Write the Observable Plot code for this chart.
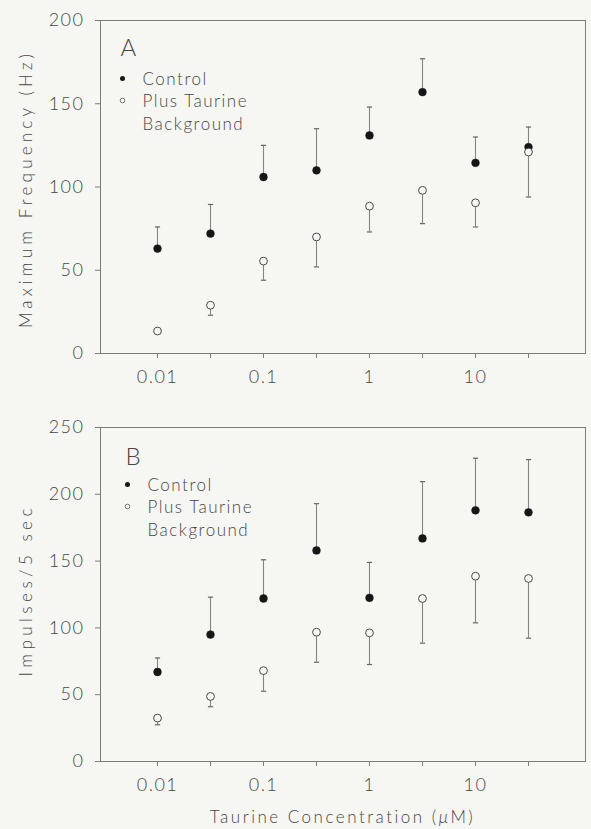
<!DOCTYPE html>
<html>
<head>
<meta charset="utf-8">
<script src="https://cdn.jsdelivr.net/npm/d3@7"></script>
<script src="https://cdn.jsdelivr.net/npm/@observablehq/plot@0.6"></script>
<style>
  html, body { margin: 0; padding: 0; background: #f6f6f3; }
  body { width: 591px; height: 829px; overflow: hidden; }
  #chart svg { display: block; }
  #chart svg text { letter-spacing: 1.5px; }
  .caption {
    width: 485px; margin-left: 100px; height: 29px; padding-top: 7px; box-sizing: border-box;
    text-align: center; font-family: Lato, "Noto Sans", sans-serif; font-weight: 300;
    font-size: 17px; line-height: 20px; letter-spacing: 2.5px; color: #464646; white-space: nowrap;
  }
</style>
</head>
<body>
<div id="chart"></div>
<script>
// ---- data ----
const concentrations = ["0.01", "0.03", "0.1", "0.3", "1", "3", "10", "30"];
const labeledTicks = ["0.01", "0.1", "1", "10"];
const legendLabels = ["Control", "Plus Taurine", "Background"];

// Panel A: Maximum Frequency (Hz)
const aControlMean  = [63, 72, 106, 110, 131, 157, 114.5, 124];
const aControlUpper = [76, 89.5, 125, 135, 148, 177, 130, 136];
const aTaurineMean  = [13.5, 29, 55.5, 70, 88.5, 98, 90.5, 121];
const aTaurineLower = [12.5, 23, 44, 52, 73, 78, 76, 94];
const aYTicks = [0, 50, 100, 150, 200];

// Panel B: Impulses/5 sec
const bControlMean  = [67, 95, 122, 158, 122.5, 167, 188, 186.5];
const bControlUpper = [77.5, 123, 151, 193, 149, 209.5, 227, 226];
const bTaurineMean  = [32.5, 48.7, 68, 96.8, 96.3, 122, 138.7, 137];
const bTaurineLower = [27.5, 41, 52.6, 74.3, 72.6, 88.6, 103.8, 92.3];
const bYTicks = [0, 50, 100, 150, 200, 250];

const bg = "#f6f6f3";
const ink = "#464646";
const font = 'Lato, "Noto Sans", sans-serif';

// horizontal cap symbol for error bars
const capSymbol = {
  draw(ctx, size) {
    const w = Math.sqrt(size / Math.PI);
    ctx.moveTo(-w, 0);
    ctx.lineTo(w, 0);
  }
};

function panel(o) {
  const ctrl = concentrations.map((c, i) => ({c, m: o.ctrlMean[i], e: o.ctrlUpper[i]}));
  const taur = concentrations.map((c, i) => ({c, m: o.taurMean[i], e: o.taurLower[i]}));
  const svg = Plot.plot({
    width: 591,
    height: 400,
    marginLeft: 100,
    marginRight: 6,
    marginTop: o.marginTop,
    marginBottom: o.marginBottom,
    style: {background: "transparent", fontFamily: font, fontSize: "18px", fontWeight: 300, color: ink},
    x: {type: "point", domain: concentrations, padding: 1.03},
    y: {domain: [0, o.yTicks[o.yTicks.length - 1]]},
    marks: [
      Plot.frame({stroke: "#7c7c7c", strokeWidth: 1}),
      Plot.axisY({ticks: o.yTicks, tickSize: 5, tickPadding: 11, label: null, stroke: "#7c7c7c", fill: ink}),
      Plot.axisX({tickSize: 5, tickPadding: 12, label: null, stroke: "#7c7c7c", fill: ink,
                  tickFormat: d => labeledTicks.includes(d) ? d : ""}),
      Plot.ruleX(ctrl, {x: "c", y1: "m", y2: "e", stroke: "#858585", strokeWidth: 1.1}),
      Plot.dot(ctrl, {x: "c", y: "e", symbol: capSymbol, r: 2.6, fill: "none", stroke: "#666", strokeWidth: 1.2}),
      Plot.ruleX(taur, {x: "c", y1: "m", y2: "e", stroke: "#858585", strokeWidth: 1.1}),
      Plot.dot(taur, {x: "c", y: "e", symbol: capSymbol, r: 2.6, fill: "none", stroke: "#666", strokeWidth: 1.2}),
      Plot.dot(ctrl, {x: "c", y: "m", r: 3.9, fill: "#161616", stroke: "#161616", strokeWidth: 0.5}),
      Plot.dot(taur, {x: "c", y: "m", r: 3.9, fill: bg, stroke: "#4a4a4a", strokeWidth: 1}),
      // panel letter
      Plot.text([o.letter], {frameAnchor: "top-left", lineAnchor: "middle", dx: o.ldx, dy: o.ldy, fontSize: 24, fill: ink}),
      // legend
      Plot.dot([0], {frameAnchor: "top-left", dx: o.gdx, dy: o.gdy, r: 2.5, fill: "#161616", stroke: "none"}),
      Plot.dot([0], {frameAnchor: "top-left", dx: o.gdx, dy: o.gdy + 22, r: 2.3, fill: "none", stroke: "#666", strokeWidth: 0.9}),
      Plot.text([legendLabels[0]], {frameAnchor: "top-left", lineAnchor: "middle", dx: o.gdx + 20, dy: o.gdy + 1, fontSize: 17, fill: ink}),
      Plot.text([legendLabels[1]], {frameAnchor: "top-left", lineAnchor: "middle", dx: o.gdx + 20, dy: o.gdy + 23, fontSize: 17, fill: ink}),
      Plot.text([legendLabels[2]], {frameAnchor: "top-left", lineAnchor: "middle", dx: o.gdx + 20, dy: o.gdy + 46, fontSize: 17, fill: ink}),
      // y label
      Plot.text([o.yLabel], {frameAnchor: "left", textAnchor: "middle", rotate: -90, dx: -74, dy: o.ydy, fontSize: 17, fill: ink})
    ]
  });
  // widen the rotated axis label to the reference's spacing
  d3.select(svg).selectAll("text")
    .filter(function() { return this.textContent === o.yLabel; })
    .attr("textLength", o.yLen).attr("lengthAdjust", "spacing").style("letter-spacing", "0px");
  return svg;
}

const chart = document.getElementById("chart");
chart.append(panel({
  marginTop: 20, marginBottom: 47, yTicks: aYTicks,
  ctrlMean: aControlMean, ctrlUpper: aControlUpper, taurMean: aTaurineMean, taurLower: aTaurineLower,
  letter: "A", ldx: 20, ldy: 28, gdx: 22, gdy: 58,
  yLabel: "Maximum Frequency (Hz)", ydy: 4, yLen: 274
}));
chart.append(panel({
  marginTop: 27, marginBottom: 39, yTicks: bYTicks,
  ctrlMean: bControlMean, ctrlUpper: bControlUpper, taurMean: bTaurineMean, taurLower: bTaurineLower,
  letter: "B", ldx: 25, ldy: 30, gdx: 27, gdy: 57,
  yLabel: "Impulses/5 sec", ydy: -2, yLen: 168
}));
const cap = document.createElement("div");
cap.className = "caption";
cap.innerHTML = "Taurine Concentration (<i>μ</i>M)";
chart.append(cap);
</script>
</body>
</html>
